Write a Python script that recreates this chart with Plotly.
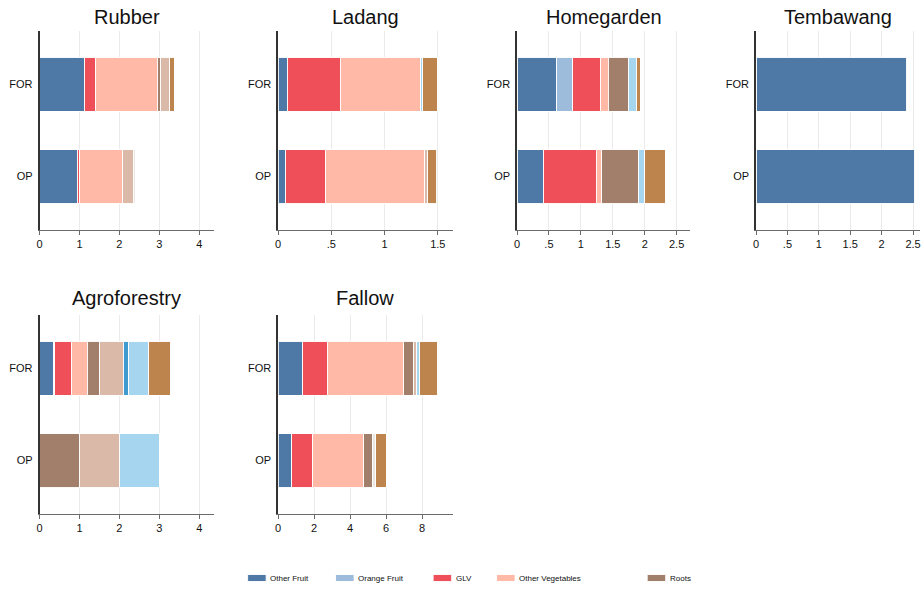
import plotly.graph_objects as go

# Food groups (stack order, left to right) and their fill colours
categories = ["Other Fruit", "Orange Fruit", "GLV", "Other Vegetables", "Roots",
              "Tubers", "Other Staples", "Legumes", "Nuts & Seeds", "Animal Source"]
colors = ["#4e78a5", "#9dbcdb", "#ee4f58", "#ffb9a6", "#a17f6b",
          "#dab9a9", "#ece6e1", "#3f9acd", "#a6d6ef", "#bd844e"]
legend_count = 5  # groups listed in the key below the panels

groups = ["FOR", "OP"]

# Mean counts per land-use type, one value per food group
rubber_for = [1.12, 0, 0.27, 1.56, 0.07, 0.24, 0, 0, 0, 0.11]
rubber_op = [0.94, 0, 0.06, 1.08, 0, 0.26, 0.05, 0, 0, 0]
ladang_for = [0.084, 0, 0.499, 0.755, 0, 0, 0, 0, 0.018, 0.138]
ladang_op = [0.065, 0, 0.378, 0.932, 0, 0.031, 0, 0, 0, 0.084]
homegarden_for = [0.62, 0.25, 0.43, 0.13, 0.31, 0, 0, 0, 0.13, 0.06]
homegarden_op = [0.41, 0, 0.83, 0.09, 0.58, 0, 0, 0, 0.09, 0.32]
tembawang_for = [2.40, 0, 0, 0, 0, 0, 0, 0, 0, 0]
tembawang_op = [2.53, 0, 0, 0, 0, 0, 0, 0, 0, 0]
agroforestry_for = [0.34, 0.04, 0.41, 0.40, 0.31, 0.59, 0, 0.14, 0.51, 0.55]
agroforestry_op = [0, 0, 0, 0, 1.0, 1.0, 0, 0, 1.0, 0]
fallow_for = [1.36, 0, 1.37, 4.24, 0.54, 0.18, 0, 0, 0.15, 0.99]
fallow_op = [0.76, 0, 1.16, 2.84, 0.46, 0, 0.20, 0, 0, 0.58]

panel_titles = ["Rubber", "Ladang", "Homegarden", "Tembawang", "Agroforestry", "Fallow"]
panel_for = [rubber_for, ladang_for, homegarden_for, tembawang_for, agroforestry_for, fallow_for]
panel_op = [rubber_op, ladang_op, homegarden_op, tembawang_op, agroforestry_op, fallow_op]

# x-axis ticks and limits per panel
tick_vals = [[0, 1, 2, 3, 4], [0, 0.5, 1, 1.5], [0, 0.5, 1, 1.5, 2, 2.5],
             [0, 0.5, 1, 1.5, 2, 2.5], [0, 1, 2, 3, 4], [0, 2, 4, 6, 8]]
tick_text = [["0", "1", "2", "3", "4"], ["0", ".5", "1", "1.5"],
             ["0", ".5", "1", "1.5", "2", "2.5"], ["0", ".5", "1", "1.5", "2", "2.5"],
             ["0", "1", "2", "3", "4"], ["0", "2", "4", "6", "8"]]
x_max = [4.37, 1.64, 2.71, 2.61, 4.37, 9.7]

W, H = 921, 589
FONT = "Liberation Sans, Arial, Helvetica, sans-serif"

# Panel placement (pixels): left/right edge of each column, top/bottom of each row
col_px = [(36.7, 212.0), (276.3, 451.7), (516.3, 690.0), (756.3, 921.0)]
row_px = [(31.0, 230.0), (315.0, 514.0)]
title_px = [17.0, 298.0]

fig = go.Figure()
layout = dict(
    width=W, height=H, margin=dict(l=0, r=0, t=0, b=0),
    paper_bgcolor="white", plot_bgcolor="white",
    barmode="stack", bargap=0.413, showlegend=False,
    font=dict(family=FONT, color="#111111"),
)
annotations = []
shapes = []

for i, title in enumerate(panel_titles):
    n = i + 1
    r, c = divmod(i, 4)
    x0, x1 = col_px[c]
    y0, y1 = row_px[r]
    xa, ya = f"x{n}", f"y{n}"
    for k, cat in enumerate(categories):
        vf, vo = panel_for[i][k], panel_op[i][k]
        xs = [vf if vf else None, vo if vo else None]
        if xs[0] is None and xs[1] is None:
            continue
        fig.add_trace(go.Bar(
            x=xs, y=groups, orientation="h", name=cat,
            marker=dict(color=colors[k], line=dict(color="rgba(255,255,255,0.95)", width=1)),
            xaxis=xa, yaxis=ya, showlegend=False,
        ))
    layout[f"xaxis{n}"] = dict(
        domain=[x0 / W, min(x1 / W, 1.0)], anchor=ya, range=[0, x_max[i]],
        tickvals=tick_vals[i], ticktext=tick_text[i], ticklabeloverflow="allow",
        showgrid=True, gridcolor="#ebebeb", gridwidth=1, zeroline=False,
        showline=True, linecolor="#6b6b6b", linewidth=1.2,
        ticks="outside", ticklen=4, tickcolor="#6b6b6b",
        tickfont=dict(size=11, family=FONT, color="#111111"), fixedrange=True,
    )
    layout[f"yaxis{n}"] = dict(
        domain=[1 - y1 / H, 1 - y0 / H], anchor=xa,
        type="category", categoryorder="array", categoryarray=["OP", "FOR"],
        range=[-0.58, 1.58], showgrid=False, zeroline=False,
        showline=True, linecolor="#333333", linewidth=1.5,
        ticks="outside", ticklen=3, tickcolor="white",
        tickfont=dict(size=11, family=FONT, color="#111111"), fixedrange=True,
    )
    annotations.append(dict(
        text=title, xref="paper", yref="paper",
        x=(x0 + x1) / 2 / W, y=1 - title_px[r] / H,
        xanchor="center", yanchor="middle", showarrow=False,
        font=dict(size=20, family=FONT, color="#111111"),
    ))

# Key below the panels
key_x = [245.7, 334.0, 432.0, 495.7, 647.0]
key_y, key_h, key_w = 578.0, 7.0, 18.6
for k in range(legend_count):
    sx = key_x[k]
    shapes.append(dict(
        type="rect", xref="paper", yref="paper",
        x0=sx / W, x1=(sx + key_w) / W,
        y0=1 - (key_y + key_h / 2) / H, y1=1 - (key_y - key_h / 2) / H,
        fillcolor=colors[k], line=dict(color="rgba(255,255,255,0.9)", width=1),
    ))
    annotations.append(dict(
        text=categories[k], xref="paper", yref="paper",
        x=(sx + key_w + 2) / W, y=1 - key_y / H,
        xanchor="left", yanchor="middle", showarrow=False,
        font=dict(size=8, family=FONT, color="#111111"),
    ))

layout["annotations"] = annotations
layout["shapes"] = shapes
fig.update_layout(**layout)
fig.write_html("out.html")
